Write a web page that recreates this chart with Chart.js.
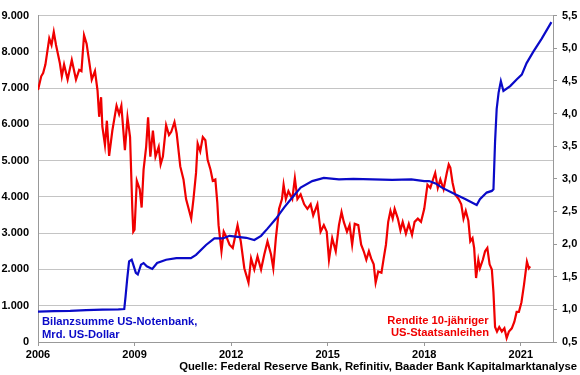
<!DOCTYPE html>
<html>
<head>
<meta charset="utf-8">
<script src="https://cdn.jsdelivr.net/npm/chart.js@4.4.1/dist/chart.umd.min.js"></script>
<style>
  html, body { margin: 0; padding: 0; background: #fff; }
  #chart { display: block; }
</style>
</head>
<body>
<canvas id="chart" width="580" height="375"></canvas>
<script>
// Bilanzsumme US-Notenbank (Mrd. US-Dollar), linke Achse
const blueYears = [2006.0, 2006.5, 2007.0, 2007.5, 2008.0, 2008.5, 2008.68, 2008.72, 2008.77, 2008.83,
  2008.91, 2008.96, 2009.04, 2009.1, 2009.2, 2009.28, 2009.38, 2009.55, 2009.7, 2009.98,
  2010.3, 2010.75, 2010.91, 2011.22, 2011.48, 2011.74, 2011.95, 2012.2, 2012.47, 2012.72,
  2012.93, 2013.13, 2013.39, 2013.65, 2013.9, 2014.16, 2014.52, 2014.88, 2015.35, 2015.8,
  2016.4, 2017.0, 2017.6, 2018.0, 2018.15, 2018.35, 2018.55, 2018.96, 2019.27, 2019.63,
  2019.73, 2019.94, 2020.1, 2020.15, 2020.2, 2020.25, 2020.31, 2020.38, 2020.46, 2020.67,
  2020.87, 2021.03, 2021.18, 2021.39, 2021.65, 2021.95];
const blueValues = [840, 850, 860, 880, 890, 900, 910, 1250, 1727, 2223,
  2269, 2133, 1906, 1862, 2133, 2177, 2087, 2015, 2177, 2269,
  2313, 2313, 2404, 2675, 2855, 2855, 2927, 2900, 2873, 2811,
  2927, 3126, 3397, 3714, 3985, 4256, 4437, 4527, 4482, 4500,
  4482, 4470, 4482, 4437, 4437, 4373, 4256, 4075, 3940, 3777,
  3940, 4120, 4166, 4210, 5520, 6425, 6877, 7192, 6921, 7057,
  7238, 7373, 7690, 8006, 8367, 8819];

// Rendite 10-jähriger US-Staatsanleihen (%), rechte Achse
const redYears = [2006.0, 2006.1, 2006.16, 2006.23, 2006.35, 2006.42, 2006.49, 2006.56, 2006.68, 2006.74,
  2006.81, 2006.92, 2007.05, 2007.18, 2007.28, 2007.35, 2007.43, 2007.51, 2007.59, 2007.67,
  2007.77, 2007.85, 2007.9, 2007.96, 2008.0, 2008.08, 2008.14, 2008.21, 2008.31, 2008.44,
  2008.52, 2008.59, 2008.7, 2008.78, 2008.86, 2008.93, 2008.96, 2009.0, 2009.07, 2009.16,
  2009.22, 2009.28, 2009.36, 2009.42, 2009.49, 2009.57, 2009.65, 2009.75, 2009.81, 2009.88,
  2009.98, 2010.07, 2010.14, 2010.24, 2010.31, 2010.42, 2010.52, 2010.6, 2010.67, 2010.76,
  2010.83, 2010.91, 2010.96, 2011.04, 2011.12, 2011.2, 2011.27, 2011.36, 2011.43, 2011.51,
  2011.57, 2011.61, 2011.7, 2011.77, 2011.87, 2011.95, 2012.05, 2012.2, 2012.3, 2012.41,
  2012.54, 2012.62, 2012.72, 2012.82, 2012.93, 2013.03, 2013.13, 2013.24, 2013.31, 2013.39,
  2013.49, 2013.58, 2013.63, 2013.7, 2013.78, 2013.9, 2013.98, 2014.06, 2014.16, 2014.27,
  2014.37, 2014.47, 2014.55, 2014.68, 2014.78, 2014.88, 2014.97, 2015.04, 2015.14, 2015.25,
  2015.35, 2015.43, 2015.5, 2015.6, 2015.68, 2015.76, 2015.84, 2015.95, 2016.04, 2016.12,
  2016.2, 2016.28, 2016.35, 2016.43, 2016.49, 2016.57, 2016.67, 2016.74, 2016.81, 2016.88,
  2016.95, 2017.02, 2017.08, 2017.18, 2017.26, 2017.33, 2017.43, 2017.52, 2017.62, 2017.7,
  2017.8, 2017.9, 2018.0, 2018.1, 2018.19, 2018.26, 2018.34, 2018.42, 2018.5, 2018.6,
  2018.7, 2018.76, 2018.81, 2018.88, 2018.96, 2019.07, 2019.15, 2019.22, 2019.29, 2019.37,
  2019.43, 2019.5, 2019.55, 2019.61, 2019.68, 2019.73, 2019.82, 2019.89, 2019.96, 2020.03,
  2020.1, 2020.15, 2020.2, 2020.26, 2020.33, 2020.41, 2020.49, 2020.56, 2020.63, 2020.72,
  2020.8, 2020.87, 2020.94, 2021.02, 2021.1, 2021.19, 2021.25, 2021.29];
const redValues = [4.36, 4.57, 4.62, 4.75, 5.15, 5.05, 5.25, 5.05, 4.77, 4.57,
  4.75, 4.52, 4.82, 4.52, 4.67, 4.65, 5.2, 5.07, 4.8, 4.52,
  4.65, 4.35, 3.95, 4.25, 3.8, 3.52, 3.89, 3.35, 3.74, 4.12,
  3.99, 4.12, 3.44, 3.94, 3.64, 2.54, 2.19, 2.22, 2.97, 2.84,
  2.56, 3.14, 3.49, 3.94, 3.34, 3.74, 3.34, 3.49, 3.22, 3.34,
  3.82, 3.67, 3.72, 3.87, 3.69, 3.19, 2.99, 2.69, 2.56, 2.39,
  2.69, 3.09, 3.54, 3.42, 3.64, 3.59, 3.29, 3.14, 2.97, 2.99,
  2.64, 2.29, 1.89, 2.19, 2.09, 1.99, 1.94, 2.29, 2.04, 1.63,
  1.41, 1.78, 1.61, 1.81, 1.61, 1.84, 2.04, 1.84, 1.63, 2.09,
  2.54, 2.69, 2.91, 2.69, 2.81, 2.69, 3.01, 2.69, 2.76, 2.61,
  2.54, 2.61, 2.44, 2.61, 2.19, 2.29, 2.19, 1.76, 2.09, 1.89,
  2.29, 2.49, 2.34, 2.19, 2.29, 1.99, 2.31, 2.29, 1.99, 1.89,
  1.76, 1.89, 1.78, 1.69, 1.41, 1.58, 1.56, 1.78, 1.99, 2.34,
  2.51, 2.39, 2.54, 2.39, 2.21, 2.34, 2.16, 2.31, 2.14, 2.34,
  2.39, 2.34, 2.54, 2.91, 2.86, 2.97, 3.09, 2.86, 2.99, 2.84,
  3.09, 3.22, 3.17, 2.94, 2.76, 2.69, 2.61, 2.39, 2.51, 2.36,
  2.04, 2.09, 1.94, 1.48, 1.76, 1.63, 1.76, 1.89, 1.94, 1.69,
  1.61, 1.26, 0.73, 0.66, 0.73, 0.66, 0.71, 0.56, 0.66, 0.71,
  0.81, 0.96, 0.96, 1.11, 1.38, 1.73, 1.63, 1.66];

const xTickYears = [2006, 2009, 2012, 2015, 2018, 2021];

const BLUE = '#0a0ac8';
const RED = '#f00000';
const FONT = 'Liberation Sans, Arial, sans-serif';

function toPoints(xs, ys) {
  return xs.map((x, i) => ({ x: x, y: ys[i] }));
}

function fmtThousands(v) {
  if (v === 0) return '0';
  const s = String(Math.round(v));
  return s.replace(/\B(?=(\d{3})+(?!\d))/g, '.');
}

const textPlugin = {
  id: 'texts',
  afterDraw(chart) {
    const ctx = chart.ctx;
    ctx.save();
    ctx.font = 'bold 11.2px ' + FONT;
    ctx.textBaseline = 'middle';

    ctx.fillStyle = BLUE;
    ctx.textAlign = 'left';
    ctx.fillText('Bilanzsumme US-Notenbank,', 42, 322);
    ctx.fillText('Mrd. US-Dollar', 42, 335);

    ctx.fillStyle = RED;
    ctx.textAlign = 'center';
    ctx.fillText('Rendite 10-jähriger', 438, 321);
    ctx.fillText('US-Staatsanleihen', 440, 333);

    ctx.font = 'bold 11.3px ' + FONT;
    ctx.fillStyle = '#000';
    ctx.textAlign = 'right';
    ctx.fillText('Quelle: Federal Reserve Bank, Refinitiv, Baader Bank Kapitalmarktanalyse', 577, 367);
    ctx.restore();
  }
};

new Chart(document.getElementById('chart').getContext('2d'), {
  type: 'line',
  data: {
    datasets: [{
      label: 'Bilanzsumme US-Notenbank, Mrd. US-Dollar',
      data: toPoints(blueYears, blueValues),
      borderColor: BLUE,
      borderWidth: 2.2,
      pointRadius: 0,
      tension: 0,
      yAxisID: 'y'
    }, {
      label: 'Rendite 10-jähriger US-Staatsanleihen',
      data: toPoints(redYears, redValues),
      borderColor: RED,
      borderWidth: 2.2,
      pointRadius: 0,
      tension: 0,
      yAxisID: 'y2'
    }]
  },
  options: {
    responsive: false,
    animation: false,
    layout: { padding: { top: 10, left: 0, right: 0, bottom: 0 } },
    plugins: {
      legend: { display: false },
      tooltip: { enabled: false }
    },
    scales: {
      x: {
        type: 'linear',
        min: 2006,
        max: 2022,
        afterBuildTicks: sc => { sc.ticks = xTickYears.map(v => ({ value: v })); },
        afterFit: sc => { sc.height = 33; },
        ticks: {
          color: '#000',
          font: { family: FONT, size: 11, weight: 'bold' },
          padding: 2,
          maxRotation: 0,
          callback: v => String(v)
        },
        grid: { drawOnChartArea: false, tickLength: 4, color: '#999' },
        border: { color: '#999' }
      },
      y: {
        position: 'left',
        min: 0,
        max: 9000,
        afterFit: sc => { sc.width = 38; },
        ticks: {
          stepSize: 1000,
          color: '#000',
          font: { family: FONT, size: 11, weight: 'bold' },
          padding: 9,
          callback: v => fmtThousands(v)
        },
        grid: { color: '#c4c4c4', drawTicks: false },
        border: { color: '#999' }
      },
      y2: {
        position: 'right',
        min: 0.5,
        max: 5.5,
        afterFit: sc => { sc.width = 27; },
        ticks: {
          stepSize: 0.5,
          color: '#000',
          font: { family: FONT, size: 11, weight: 'bold' },
          padding: 5,
          callback: v => v.toFixed(1).replace('.', ',')
        },
        grid: { drawOnChartArea: false, tickLength: 4, color: '#999' },
        border: { color: '#999' }
      }
    }
  },
  plugins: [textPlugin]
});
</script>
</body>
</html>
